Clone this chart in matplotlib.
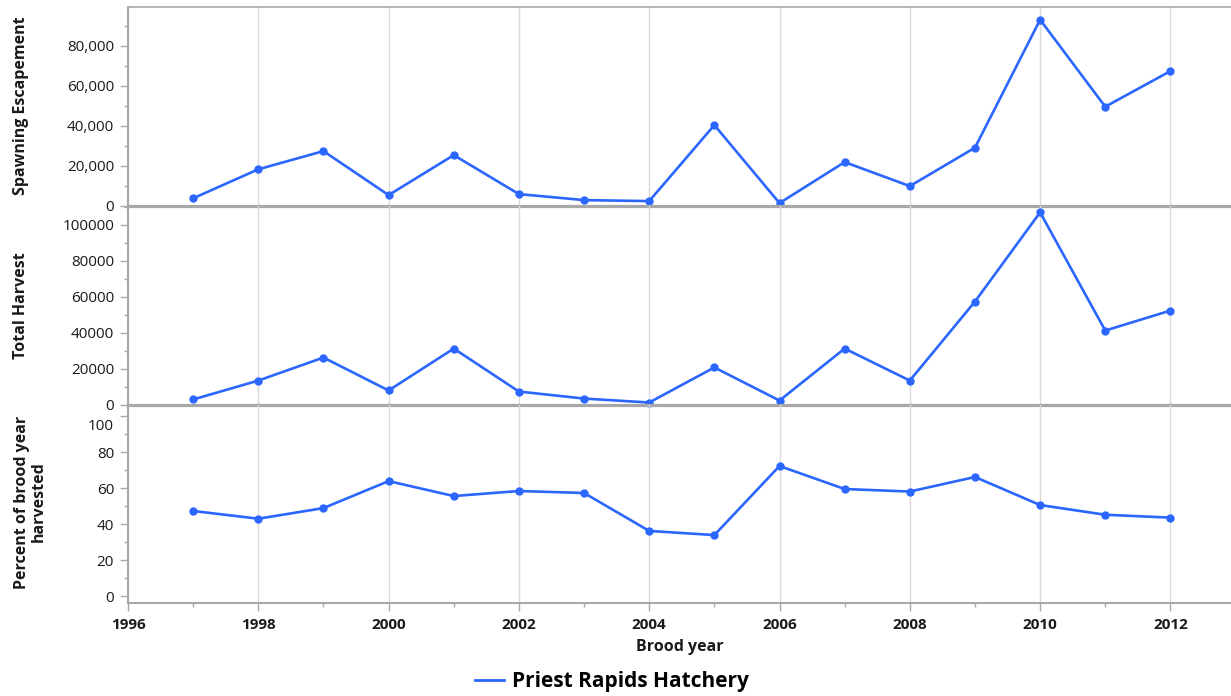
import matplotlib

matplotlib.use("Agg")
import matplotlib.pyplot as plt
import matplotlib.transforms as mtrans
from matplotlib.ticker import FuncFormatter, MultipleLocator

plt.rcParams["font.family"] = ["Open Sans", "DejaVu Sans"]

years = list(range(1997, 2013))
escapement = [3700, 18200, 27300, 5300, 25300, 5800, 2800, 2300,
              40300, 1300, 21800, 9800, 29000, 93000, 49500, 67300]
harvest = [2800, 13300, 26100, 7800, 31100, 7200, 3300, 1100,
           20600, 2200, 31100, 13300, 57200, 106800, 41100, 52200]
pct_harvested = [47.4, 43.1, 49.0, 64.0, 55.7, 58.5, 57.4, 36.3,
                 34.0, 72.4, 59.6, 58.2, 66.3, 50.7, 45.3, 43.7]
series_name = "Priest Rapids Hatchery"

LINE = "#2b66ff"
SPINE = "#a8a8a8"
GRID = "#dadada"
TXT = "#1a1a1a"

W, H = 1231, 696
fig = plt.figure(figsize=(W / 100, H / 100), dpi=100)

left_px, right_px = 128, 1231
rows = [(7.3, 205.7), (205.7, 404.5), (404.5, 602.7)]
axes = []
for top, bot in rows:
    ax = fig.add_axes([left_px / W, 1 - bot / H, (right_px - left_px) / W, (bot - top) / H])
    axes.append(ax)

ax1, ax2, ax3 = axes
panels = [
    (ax1, escapement, (0, 99200), 20000, 10000, lambda v, p: f"{int(v):,}"),
    (ax2, harvest, (0, 110500), 20000, 10000, lambda v, p: f"{int(v)}"),
    (ax3, pct_harvested, (-3.6, 106.6), 20, 10, lambda v, p: f"{int(v)}"),
]

for ax, vals, ylim, major, minor, fmt in panels:
    ax.patch.set_alpha(0)
    ax.plot(years, vals, color=LINE, lw=1.9, marker="o", ms=5, zorder=3, clip_on=False)
    ax.set_xlim(1996, 2012.93)
    ax.set_ylim(*ylim)
    ax.yaxis.set_major_locator(MultipleLocator(major))
    ax.yaxis.set_minor_locator(MultipleLocator(minor))
    ax.yaxis.set_major_formatter(FuncFormatter(fmt))
    ax.xaxis.set_major_locator(MultipleLocator(2))
    ax.xaxis.set_minor_locator(MultipleLocator(1))
    ax.grid(True, axis="x", which="major", color=GRID, lw=1)
    ax.set_axisbelow(True)
    ax.tick_params(axis="y", which="major", length=6, width=1, color=SPINE, labelsize=11, labelcolor=TXT, pad=4)
    ax.tick_params(axis="y", which="minor", length=3, width=1, color=SPINE)
    ax.spines["right"].set_visible(False)
    ax.spines["left"].set_color(SPINE)
    ax.spines["left"].set_linewidth(1.5)
    ax.spines["top"].set_visible(False)
    ax.spines["bottom"].set_color(SPINE)
    ax.spines["bottom"].set_linewidth(2.3)
    ax.spines["bottom"].set_zorder(4)

ax1.spines["top"].set_visible(True)
ax1.spines["top"].set_color(SPINE)
ax1.spines["top"].set_linewidth(1.2)

for ax in (ax1, ax2):
    ax.tick_params(axis="x", which="both", bottom=False, labelbottom=False)

ax3.spines["bottom"].set_linewidth(1.5)
ax3.tick_params(axis="x", which="major", length=6, width=1, color=SPINE, labelsize=11, labelcolor=TXT, pad=5)
ax3.tick_params(axis="x", which="minor", length=3, width=1, color=SPINE)
ax3.xaxis.set_major_formatter(FuncFormatter(lambda v, p: f"{int(v)}"))
ax3.set_xlabel("Brood year", fontsize=11.5, fontweight="bold", color=TXT, labelpad=5)

# y labels placed in figure pixels
ylab = dict(rotation=90, ha="center", va="center", fontsize=11.5, fontweight="bold", color=TXT)
fig.text(21 / W, 1 - 106 / H, "Spawning Escapement", **ylab)
fig.text(21 / W, 1 - 306 / H, "Total Harvest", **ylab)
fig.text(30 / W, 1 - 502 / H, "Percent of brood year\nharvested", linespacing=1.05, **ylab)

handle, = ax3.plot([], [], color=LINE, lw=2)
fig.legend([handle], [series_name], loc="center", bbox_to_anchor=(612 / W, 1 - 682 / H),
           frameon=False, prop={"weight": "bold", "size": 15}, handlelength=1.4, handletextpad=0.4)

fig.canvas.draw()
for t in ax3.get_xticklabels():
    t.set_fontweight("bold")
# nudge the top label of the lower panel down, like the reference
for tick in ax3.yaxis.get_major_ticks():
    if abs(tick.get_loc() - 100) < 1e-6:
        tick.label1.set_transform(tick.label1.get_transform()
                                  + mtrans.ScaledTranslation(0, -8 / 100, fig.dpi_scale_trans))

fig.savefig("out.png", dpi=100)
